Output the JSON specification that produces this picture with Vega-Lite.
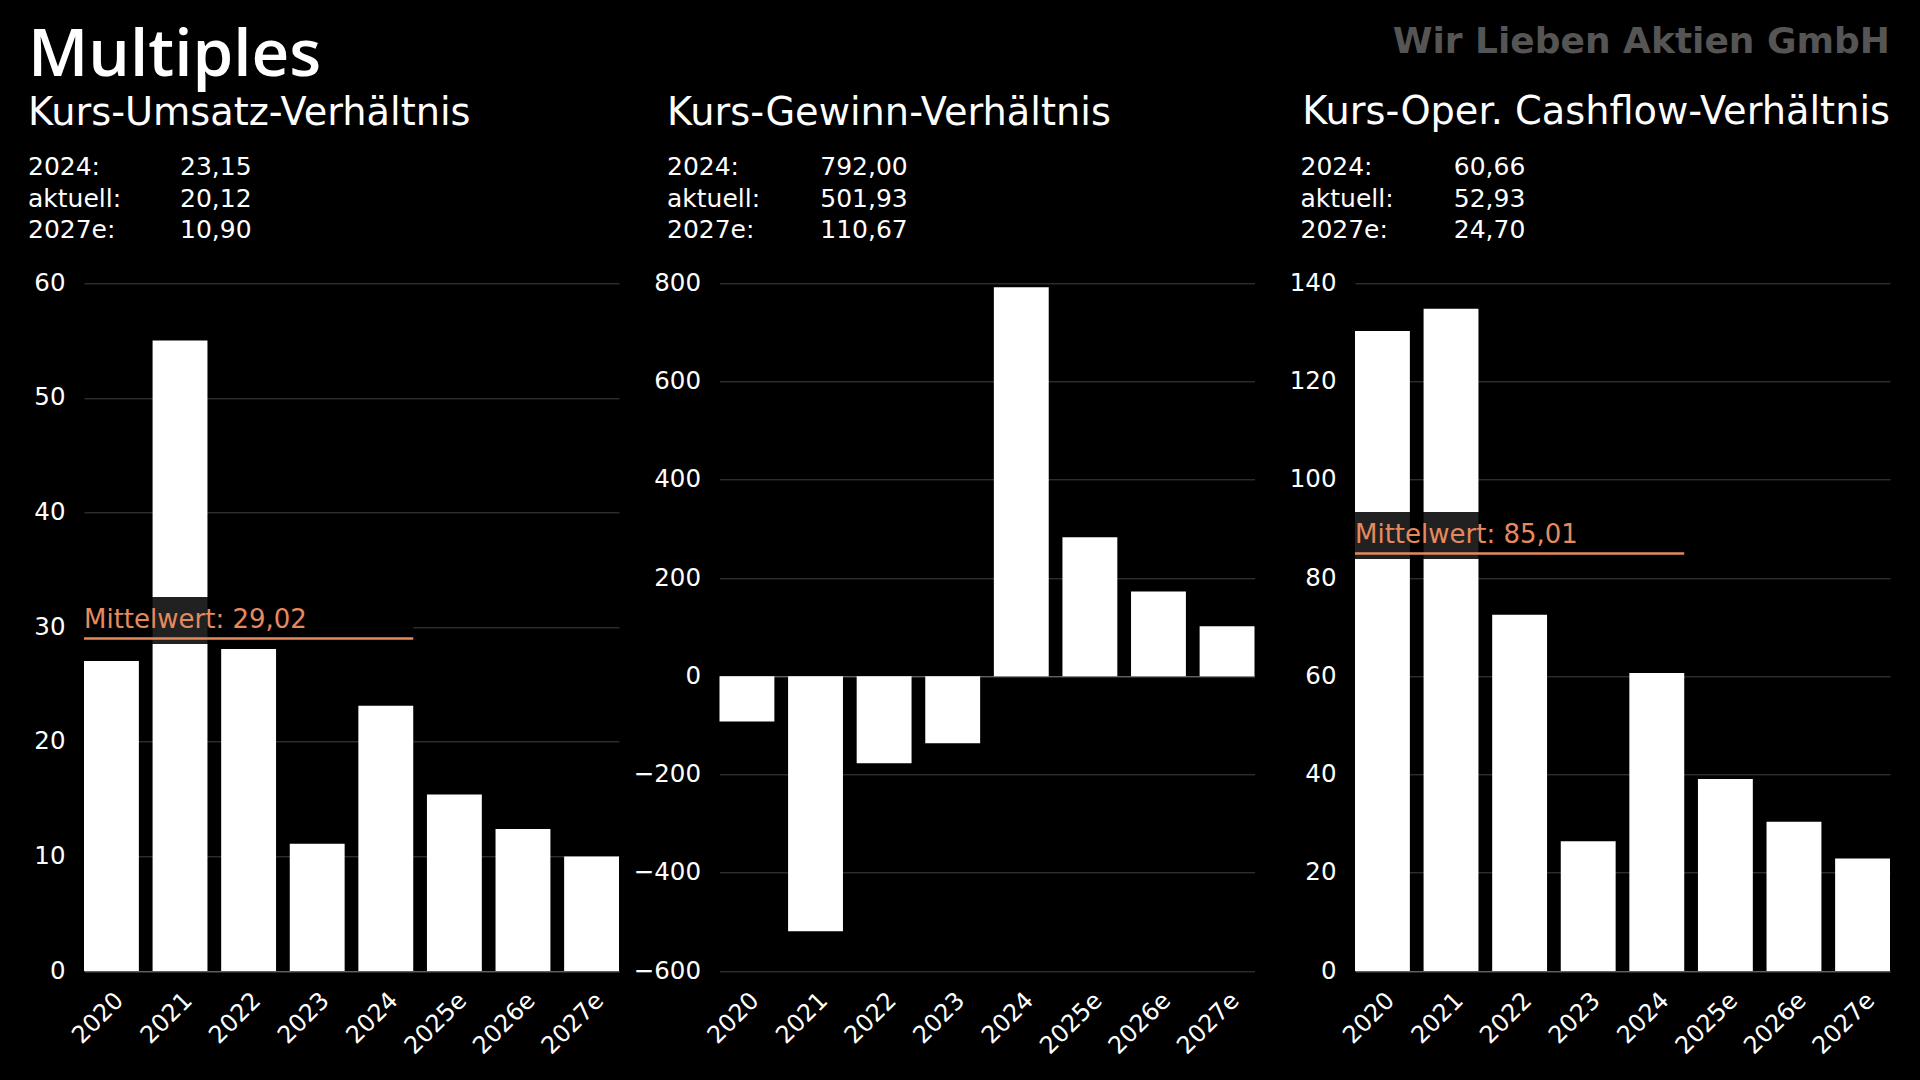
{
  "$schema": "https://vega.github.io/schema/vega-lite/v6.json",
  "background": "#000000",
  "autosize": {"type": "pad"},
  "padding": {"left": 28, "top": 24, "right": 31, "bottom": 28},
  "columns": 3,
  "bounds": "flush",
  "spacing": {"row": 44.3, "column": 100.5},
  "datasets": {
    "bars": [
      {"panel": "KUV", "year": "2020", "value": 27.05},
      {"panel": "KUV", "year": "2021", "value": 55.0},
      {"panel": "KUV", "year": "2022", "value": 28.1},
      {"panel": "KUV", "year": "2023", "value": 11.1},
      {"panel": "KUV", "year": "2024", "value": 23.15},
      {"panel": "KUV", "year": "2025e", "value": 15.4},
      {"panel": "KUV", "year": "2026e", "value": 12.4},
      {"panel": "KUV", "year": "2027e", "value": 10.0},
      {"panel": "KGV", "year": "2020", "value": -92},
      {"panel": "KGV", "year": "2021", "value": -519},
      {"panel": "KGV", "year": "2022", "value": -177},
      {"panel": "KGV", "year": "2023", "value": -136.5},
      {"panel": "KGV", "year": "2024", "value": 792},
      {"panel": "KGV", "year": "2025e", "value": 283},
      {"panel": "KGV", "year": "2026e", "value": 172.5},
      {"panel": "KGV", "year": "2027e", "value": 102},
      {"panel": "KCV", "year": "2020", "value": 130.3},
      {"panel": "KCV", "year": "2021", "value": 134.8},
      {"panel": "KCV", "year": "2022", "value": 72.5},
      {"panel": "KCV", "year": "2023", "value": 26.4},
      {"panel": "KCV", "year": "2024", "value": 60.66},
      {"panel": "KCV", "year": "2025e", "value": 39.1},
      {"panel": "KCV", "year": "2026e", "value": 30.4},
      {"panel": "KCV", "year": "2027e", "value": 22.9}
    ],
    "means": [
      {"panel": "KUV", "from": "2020", "to": "2024", "mean": 29.02, "label": "Mittelwert: 29,02"},
      {"panel": "KCV", "from": "2020", "to": "2024", "mean": 85.01, "label": "Mittelwert: 85,01"}
    ],
    "stats": [
      {"panel": "KUV", "row": "2024:", "value": "23,15"},
      {"panel": "KUV", "row": "aktuell:", "value": "20,12"},
      {"panel": "KUV", "row": "2027e:", "value": "10,90"},
      {"panel": "KGV", "row": "2024:", "value": "792,00"},
      {"panel": "KGV", "row": "aktuell:", "value": "501,93"},
      {"panel": "KGV", "row": "2027e:", "value": "110,67"},
      {"panel": "KCV", "row": "2024:", "value": "60,66"},
      {"panel": "KCV", "row": "aktuell:", "value": "52,93"},
      {"panel": "KCV", "row": "2027e:", "value": "24,70"}
    ]
  },
  "concat": [
    {
      "width": 535, "height": 63.3,
      "title": {"text": "Multiples", "subtitle": "Kurs-Umsatz-Verhältnis", "anchor": "start", "frame": "group", "dx": -56, "offset": 22.5, "subtitlePadding": 5.5, "font": "Open Sans", "fontSize": 65.5, "fontWeight": 600, "color": "#ffffff", "subtitleFont": "DejaVu Sans", "subtitleFontSize": 38.3, "subtitleColor": "#ffffff", "subtitleFontWeight": "normal"},
      "data": {"name": "stats"},
      "transform": [{"filter": "datum.panel === 'KUV'"}],
      "layer": [
        {"mark": {"type": "text", "align": "left", "baseline": "alphabetic", "fontSize": 25, "color": "#ffffff", "font": "DejaVu Sans"},
         "encoding": {
           "x": {"datum": "label", "type": "nominal", "scale": {"type": "point", "domain": ["label", "value"], "range": [-56, 96], "padding": 0}, "axis": null},
           "y": {"field": "row", "type": "ordinal", "sort": ["2024:", "aktuell:", "2027e:"], "scale": {"type": "point", "padding": 0}, "axis": null},
           "text": {"field": "row"}}},
        {"mark": {"type": "text", "align": "left", "baseline": "alphabetic", "fontSize": 25, "color": "#ffffff", "font": "DejaVu Sans"},
         "encoding": {
           "x": {"datum": "value", "type": "nominal"},
           "y": {"field": "row", "type": "ordinal", "sort": ["2024:", "aktuell:", "2027e:"]},
           "text": {"field": "value"}}}
      ]
    },
    {
      "width": 535, "height": 63.3,
      "title": {"text": " ", "subtitle": "Kurs-Gewinn-Verhältnis", "anchor": "start", "frame": "group", "dx": -52.5, "offset": 22.5, "subtitlePadding": 5.5, "fontSize": 20, "color": "#ffffff", "subtitleFont": "DejaVu Sans", "subtitleFontSize": 38.3, "subtitleColor": "#ffffff", "subtitleFontWeight": "normal"},
      "data": {"name": "stats"},
      "transform": [{"filter": "datum.panel === 'KGV'"}],
      "layer": [
        {"mark": {"type": "text", "align": "left", "baseline": "alphabetic", "fontSize": 25, "color": "#ffffff", "font": "DejaVu Sans"},
         "encoding": {
           "x": {"datum": "label", "type": "nominal", "scale": {"type": "point", "domain": ["label", "value"], "range": [-52.5, 100.8], "padding": 0}, "axis": null},
           "y": {"field": "row", "type": "ordinal", "sort": ["2024:", "aktuell:", "2027e:"], "scale": {"type": "point", "padding": 0}, "axis": null},
           "text": {"field": "row"}}},
        {"mark": {"type": "text", "align": "left", "baseline": "alphabetic", "fontSize": 25, "color": "#ffffff", "font": "DejaVu Sans"},
         "encoding": {
           "x": {"datum": "value", "type": "nominal"},
           "y": {"field": "row", "type": "ordinal", "sort": ["2024:", "aktuell:", "2027e:"]},
           "text": {"field": "value"}}}
      ]
    },
    {
      "width": 535, "height": 63.3,
      "title": {"text": "Wir Lieben Aktien GmbH", "subtitle": "Kurs-Oper. Cashflow-Verhältnis", "anchor": "end", "frame": "group", "offset": 22.5, "subtitlePadding": 33, "font": "DejaVu Sans", "fontSize": 36, "fontWeight": "bold", "color": "#555555", "subtitleFont": "DejaVu Sans", "subtitleFontSize": 38.3, "subtitleColor": "#ffffff", "subtitleFontWeight": "normal"},
      "data": {"name": "stats"},
      "transform": [{"filter": "datum.panel === 'KCV'"}],
      "layer": [
        {"mark": {"type": "text", "align": "left", "baseline": "alphabetic", "fontSize": 25, "color": "#ffffff", "font": "DejaVu Sans"},
         "encoding": {
           "x": {"datum": "label", "type": "nominal", "scale": {"type": "point", "domain": ["label", "value"], "range": [-54.5, 98.8], "padding": 0}, "axis": null},
           "y": {"field": "row", "type": "ordinal", "sort": ["2024:", "aktuell:", "2027e:"], "scale": {"type": "point", "padding": 0}, "axis": null},
           "text": {"field": "row"}}},
        {"mark": {"type": "text", "align": "left", "baseline": "alphabetic", "fontSize": 25, "color": "#ffffff", "font": "DejaVu Sans"},
         "encoding": {
           "x": {"datum": "value", "type": "nominal"},
           "y": {"field": "row", "type": "ordinal", "sort": ["2024:", "aktuell:", "2027e:"]},
           "text": {"field": "value"}}}
      ]
    },
    {
      "width": 535, "height": 687.7,
      "layer": [
        {"data": {"name": "bars"}, "transform": [{"filter": "datum.panel === 'KUV'"}],
         "mark": {"type": "bar", "color": "#ffffff"},
         "encoding": {
           "x": {"field": "year", "type": "ordinal", "title": null, "scale": {"domain": ["2020", "2021", "2022", "2023", "2024", "2025e", "2026e", "2027e"], "paddingInner": 0.2, "paddingOuter": 0},
                 "axis": {"labelAngle": -45, "labelAlign": "right", "labelBaseline": "top", "labelPadding": 17, "labelFontSize": 24, "labelColor": "#ffffff", "ticks": false, "domain": false, "grid": false}},
           "y": {"field": "value", "type": "quantitative", "title": null, "scale": {"domain": [0, 60], "nice": false, "zero": false},
                 "axis": {"values": [0, 10, 20, 30, 40, 50, 60], "grid": true, "gridColor": {"condition": {"test": "datum.value === 0", "value": "#8a8a8a"}, "value": "#404040"}, "gridWidth": 1, "domain": false, "ticks": false, "labelColor": "#ffffff", "labelFontSize": 24.5, "labelPadding": 19}}}},
        {"data": {"name": "means"}, "transform": [{"filter": "datum.panel === 'KUV'"}],
         "mark": {"type": "rule", "color": "#000000", "opacity": 0.87, "strokeWidth": 47, "yOffset": -18, "strokeCap": "butt"},
         "encoding": {"x": {"field": "from", "type": "ordinal", "bandPosition": 0}, "x2": {"field": "to", "bandPosition": 1}, "y": {"field": "mean", "type": "quantitative"}}},
        {"data": {"name": "means"}, "transform": [{"filter": "datum.panel === 'KUV'"}],
         "mark": {"type": "rule", "color": "#E68A5E", "strokeWidth": 2.5, "strokeCap": "butt"},
         "encoding": {"x": {"field": "from", "type": "ordinal", "bandPosition": 0}, "x2": {"field": "to", "bandPosition": 1}, "y": {"field": "mean", "type": "quantitative"}}},
        {"data": {"name": "means"}, "transform": [{"filter": "datum.panel === 'KUV'"}],
         "mark": {"type": "text", "color": "#E68A5E", "align": "left", "baseline": "alphabetic", "dy": -10, "fontSize": 26, "font": "DejaVu Sans"},
         "encoding": {"x": {"field": "from", "type": "ordinal", "bandPosition": 0}, "y": {"field": "mean", "type": "quantitative"}, "text": {"field": "label"}}}
      ]
    },
    {
      "width": 535, "height": 687.7,
      "layer": [
        {"data": {"name": "bars"}, "transform": [{"filter": "datum.panel === 'KGV'"}],
         "mark": {"type": "bar", "color": "#ffffff"},
         "encoding": {
           "x": {"field": "year", "type": "ordinal", "title": null, "scale": {"domain": ["2020", "2021", "2022", "2023", "2024", "2025e", "2026e", "2027e"], "paddingInner": 0.2, "paddingOuter": 0},
                 "axis": {"labelAngle": -45, "labelAlign": "right", "labelBaseline": "top", "labelPadding": 17, "labelFontSize": 24, "labelColor": "#ffffff", "ticks": false, "domain": false, "grid": false}},
           "y": {"field": "value", "type": "quantitative", "title": null, "scale": {"domain": [-600, 800], "nice": false, "zero": false},
                 "axis": {"values": [-600, -400, -200, 0, 200, 400, 600, 800], "grid": true, "gridColor": {"condition": {"test": "datum.value === 0", "value": "#8a8a8a"}, "value": "#404040"}, "gridWidth": 1, "domain": false, "ticks": false, "labelColor": "#ffffff", "labelFontSize": 24.5, "labelPadding": 19}}}}
      ]
    },
    {
      "width": 535, "height": 687.7,
      "layer": [
        {"data": {"name": "bars"}, "transform": [{"filter": "datum.panel === 'KCV'"}],
         "mark": {"type": "bar", "color": "#ffffff"},
         "encoding": {
           "x": {"field": "year", "type": "ordinal", "title": null, "scale": {"domain": ["2020", "2021", "2022", "2023", "2024", "2025e", "2026e", "2027e"], "paddingInner": 0.2, "paddingOuter": 0},
                 "axis": {"labelAngle": -45, "labelAlign": "right", "labelBaseline": "top", "labelPadding": 17, "labelFontSize": 24, "labelColor": "#ffffff", "ticks": false, "domain": false, "grid": false}},
           "y": {"field": "value", "type": "quantitative", "title": null, "scale": {"domain": [0, 140], "nice": false, "zero": false},
                 "axis": {"values": [0, 20, 40, 60, 80, 100, 120, 140], "grid": true, "gridColor": {"condition": {"test": "datum.value === 0", "value": "#8a8a8a"}, "value": "#404040"}, "gridWidth": 1, "domain": false, "ticks": false, "labelColor": "#ffffff", "labelFontSize": 24.5, "labelPadding": 19}}}},
        {"data": {"name": "means"}, "transform": [{"filter": "datum.panel === 'KCV'"}],
         "mark": {"type": "rule", "color": "#000000", "opacity": 0.87, "strokeWidth": 47, "yOffset": -18, "strokeCap": "butt"},
         "encoding": {"x": {"field": "from", "type": "ordinal", "bandPosition": 0}, "x2": {"field": "to", "bandPosition": 1}, "y": {"field": "mean", "type": "quantitative"}}},
        {"data": {"name": "means"}, "transform": [{"filter": "datum.panel === 'KCV'"}],
         "mark": {"type": "rule", "color": "#E68A5E", "strokeWidth": 2.5, "strokeCap": "butt"},
         "encoding": {"x": {"field": "from", "type": "ordinal", "bandPosition": 0}, "x2": {"field": "to", "bandPosition": 1}, "y": {"field": "mean", "type": "quantitative"}}},
        {"data": {"name": "means"}, "transform": [{"filter": "datum.panel === 'KCV'"}],
         "mark": {"type": "text", "color": "#E68A5E", "align": "left", "baseline": "alphabetic", "dy": -10, "fontSize": 26, "font": "DejaVu Sans"},
         "encoding": {"x": {"field": "from", "type": "ordinal", "bandPosition": 0}, "y": {"field": "mean", "type": "quantitative"}, "text": {"field": "label"}}}
      ]
    }
  ],
  "config": {
    "view": {"stroke": null},
    "font": "DejaVu Sans",
    "axis": {"labelFont": "DejaVu Sans"}
  }
}
